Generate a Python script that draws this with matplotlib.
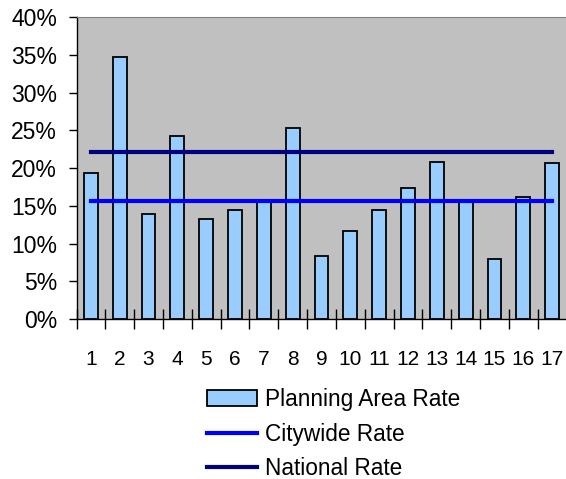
import numpy as np
import matplotlib
matplotlib.use("Agg")
import matplotlib.pyplot as plt
from matplotlib.ticker import FuncFormatter, FixedLocator

plt.rcParams['font.family'] = ['Liberation Sans', 'DejaVu Sans']

areas = [str(i) for i in range(1, 18)]
area_rate = [19.4, 34.7, 13.9, 24.3, 13.2, 14.4, 15.6, 25.3, 8.4,
             11.7, 14.4, 17.4, 20.8, 15.6, 7.9, 16.1, 20.6]
citywide = 15.6
national = 22.1

fig = plt.figure(figsize=(5.66, 4.79), dpi=100)
ax = fig.add_axes([76.5 / 566, 0.334, 490 / 566, 0.6305])
ax.set_facecolor('#C0C0C0')

x = np.arange(len(areas))
bars = ax.bar(x, area_rate, width=0.48, color='#99CCFF', edgecolor='black',
              linewidth=1.3, label='Planning Area Rate', zorder=2)
l1, = ax.plot(x, [citywide] * len(x), color='#0000FF', lw=3, label='Citywide Rate', zorder=3)
l2, = ax.plot(x, [national] * len(x), color='#000080', lw=3, label='National Rate', zorder=3)

ax.set_xlim(-0.5, len(areas) - 0.5)
ax.set_ylim(0, 40)
ax.set_yticks(np.arange(0, 41, 5))
ax.yaxis.set_major_formatter(FuncFormatter(lambda v, p: f"{v:.0f}%"))
ax.tick_params(axis='y', length=6, width=1, labelsize=16.5, pad=8, direction='out')

ax.set_xticks(x)
ax.set_xticklabels(areas)
ax.tick_params(axis='x', which='major', length=0, labelsize=15, pad=22)
ax.xaxis.set_minor_locator(FixedLocator(np.arange(-0.5, len(areas), 1)))
ax.tick_params(axis='x', which='minor', length=14, width=1, direction='inout')

for s in ['left', 'bottom']:
    ax.spines[s].set_color('black')
    ax.spines[s].set_linewidth(1)
ax.spines['top'].set_color('#808080')
ax.spines['right'].set_visible(False)

fig.legend([bars, l1, l2], ['Planning Area Rate', 'Citywide Rate', 'National Rate'],
           loc='upper center', bbox_to_anchor=(0.589, 0.214), frameon=False,
           fontsize=16.3, handlelength=2.2, handletextpad=0.35, labelspacing=0.52,
           borderpad=0)

fig.savefig('out.png', dpi=100)
